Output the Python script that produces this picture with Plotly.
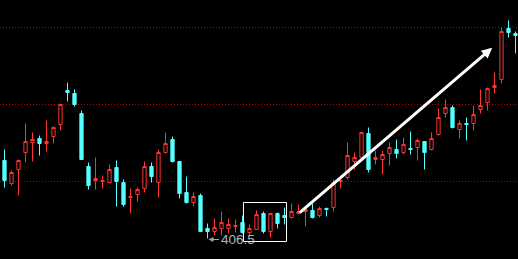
import plotly.graph_objects as go

# ---- data (price units) ----
opens = [484.5, 461.5, 475.5, 492.5, 502.5, 506.5, 501.5, 508.5, 520.5, 554.5,
         551.5, 531.5, 478.5, 464.5, 463.5, 462.5, 477.5, 462.5, 447.5, 450.5,
         456.5, 478.5, 462.5, 492.5, 505.5, 483.5, 452.5, 442.5, 449.5, 416.5,
         413.5, 416.5, 416.5, 418.5, 422.5, 412.5, 415.5, 431.5, 413.5, 431.5,
         429.5, 427.5, 431.5, 433.5, 434.5, 429.5, 436.5, 437.5, 463.5, 467.5,
         483.5, 487.5, 511.5, 485.5, 485.5, 491.5, 495.5, 492.5, 496.5, 497.5,
         503.5, 495.5, 510.5, 531.5, 537.5, 515.5, 521.5, 521.5, 535.5, 542.5,
         557.5, 565.5, 616.5, 611.5]
highs = [495.5, 474.5, 485.5, 521.5, 512.5, 509.5, 524.5, 518.5, 541.5, 562.5,
         555.5, 534.5, 482.5, 487.5, 469.5, 480.5, 484.5, 465.5, 456.5, 457.5,
         483.5, 482.5, 495.5, 512.5, 508.5, 483.5, 468.5, 452.5, 451.5, 421.5,
         426.5, 433.5, 426.5, 425.5, 429.5, 420.5, 434.5, 433.5, 431.5, 432.5,
         437.5, 441.5, 440.5, 435.5, 441.5, 438.5, 437.5, 465.5, 467.5, 502.5,
         492.5, 512.5, 517.5, 494.5, 494.5, 502.5, 505.5, 507.5, 513.5, 506.5,
         503.5, 512.5, 536.5, 545.5, 539.5, 524.5, 527.5, 539.5, 555.5, 557.5,
         572.5, 617.5, 624.5, 613.5]
lows = [457.5, 459.5, 449.5, 482.5, 483.5, 489.5, 493.5, 501.5, 514.5, 543.5,
        538.5, 485.5, 455.5, 455.5, 456.5, 461.5, 438.5, 438.5, 431.5, 443.5,
        452.5, 462.5, 447.5, 491.5, 482.5, 446.5, 441.5, 438.5, 413.5, 406.5,
        409.5, 409.5, 411.5, 412.5, 411.5, 408.5, 415.5, 411.5, 407.5, 416.5,
        420.5, 426.5, 431.5, 418.5, 426.5, 427.5, 428.5, 433.5, 456.5, 465.5,
        475.5, 487.5, 472.5, 480.5, 470.5, 479.5, 486.5, 490.5, 490.5, 484.5,
        475.5, 494.5, 509.5, 527.5, 516.5, 506.5, 504.5, 514.5, 531.5, 534.5,
        551.5, 561.5, 607.5, 591.5]
closes = [464.5, 472.5, 484.5, 503.5, 505.5, 501.5, 503.5, 517.5, 540.5, 552.5,
          540.5, 485.5, 459.5, 466.5, 464.5, 475.5, 463.5, 440.5, 448.5, 455.5,
          478.5, 468.5, 492.5, 501.5, 483.5, 451.5, 442.5, 448.5, 413.5, 413.5,
          417.5, 422.5, 420.5, 419.5, 412.5, 416.5, 430.5, 413.5, 431.5, 421.5,
          427.5, 433.5, 433.5, 435.5, 427.5, 436.5, 435.5, 462.5, 464.5, 489.5,
          487.5, 512.5, 475.5, 487.5, 490.5, 497.5, 491.5, 500.5, 495.5, 504.5,
          492.5, 506.5, 527.5, 537.5, 517.5, 521.5, 520.5, 530.5, 539.5, 556.5,
          559.5, 613.5, 612.5, 609.5]
grid_levels = [617.5, 540.5, 463.5]
idx = list(range(len(opens)))

UP = "#ff3232"
DOWN = "#54ffff"

fig = go.Figure(go.Candlestick(
    x=idx, open=opens, high=highs, low=lows, close=closes,
    increasing=dict(line=dict(color=UP, width=1), fillcolor="#000000"),
    decreasing=dict(line=dict(color=DOWN, width=1), fillcolor=DOWN),
    whiskerwidth=0, hoverinfo="skip",
))

shapes = []
for lv in grid_levels:
    shapes.append(dict(type="line", xref="paper", x0=0, x1=1, yref="y", y0=lv, y1=lv,
                       line=dict(color="#b00000", width=1, dash="1px,2px"), layer="below"))

# highlight box around candles 35..40
b0, b1 = 35, 40
shapes.append(dict(type="rect", xref="x", yref="y",
                   x0=b0 - 0.86, x1=b1 + 0.29,
                   y0=min(lows[b0:b1 + 1]) - 4, y1=max(highs[b0:b1 + 1]) + 5,
                   line=dict(color="#ffffff", width=1), fillcolor="rgba(0,0,0,0)"))

lo = min(lows)
lo_i = lows.index(lo)
annotations = [
    dict(x=lo_i, y=lo, xref="x", yref="y", text=f"{lo:g}", showarrow=True,
         ax=29, ay=0, arrowhead=2, arrowsize=1, arrowwidth=1, arrowcolor="#a0a8b0",
         xshift=1, yshift=-1, standoff=0,
         font=dict(family="Liberation Sans, Arial", size=13.5, color="#a9b6c4")),
    dict(x=69.67, y=597.2, xref="x", yref="y", ax=41.96, ay=431.2, axref="x", ayref="y",
         text="", showarrow=True, arrowhead=2, arrowsize=0.7, arrowwidth=3,
         arrowcolor="#ffffff", standoff=0),
]

fig.update_layout(
    width=518, height=259, margin=dict(l=0, r=0, t=0, b=0),
    paper_bgcolor="#000000", plot_bgcolor="#000000",
    showlegend=False, boxgap=0.33,
    xaxis=dict(range=[-4.5 / 7, -4.5 / 7 + 518 / 7], visible=False, showgrid=False,
               rangeslider=dict(visible=False), fixedrange=True),
    yaxis=dict(range=[386, 645], visible=False, showgrid=False, fixedrange=True),
    shapes=shapes, annotations=annotations,
)

fig.write_html("out.html", config={"displayModeBar": False})
